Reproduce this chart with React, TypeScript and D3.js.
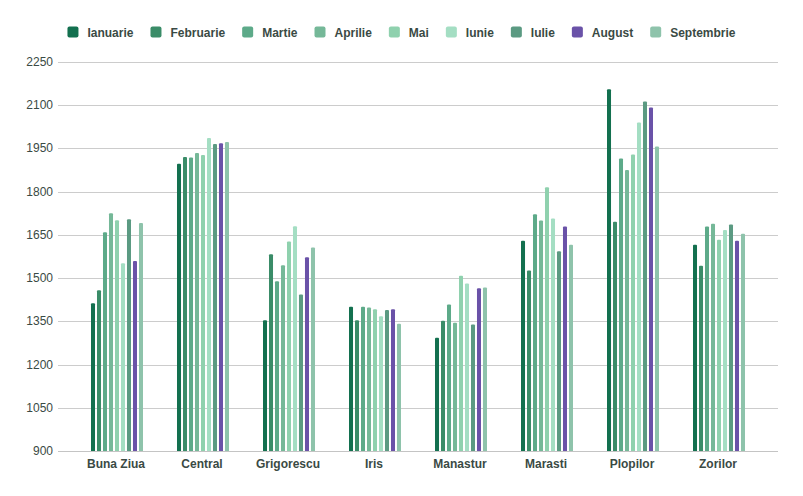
import React, { useMemo } from "react";
import * as d3 from "d3";

const categories = ["Buna Ziua", "Central", "Grigorescu", "Iris", "Manastur", "Marasti", "Plopilor", "Zorilor"];
const seriesNames = ["Ianuarie", "Februarie", "Martie", "Aprilie", "Mai", "Iunie", "Iulie", "August", "Septembrie"];
const seriesColors = ["#13704f", "#3a8c68", "#5daa89", "#75b898", "#8fd1ae", "#a4dec3", "#5b9a82", "#6a52a8", "#8ec3ab"];

// values[series][category]
const ianuarie = [1413, 1897, 1354, 1401, 1293, 1630, 2155, 1616];
const februarie = [1458, 1920, 1583, 1354, 1352, 1526, 1696, 1543];
const martie = [1659, 1919, 1489, 1401, 1408, 1722, 1915, 1679];
const aprilie = [1725, 1934, 1545, 1398, 1345, 1700, 1875, 1689];
const mai = [1701, 1927, 1627, 1392, 1508, 1815, 1929, 1633];
const iunie = [1552, 1986, 1680, 1368, 1481, 1707, 2040, 1667];
const iulie = [1704, 1965, 1443, 1389, 1339, 1593, 2113, 1686];
const august = [1559, 1968, 1572, 1392, 1465, 1679, 2092, 1630];
const septembrie = [1691, 1972, 1606, 1342, 1467, 1616, 1957, 1654];
const seriesValues = [ianuarie, februarie, martie, aprilie, mai, iunie, iulie, august, septembrie];

const yTicks = [900, 1050, 1200, 1350, 1500, 1650, 1800, 1950, 2100, 2250];

const W = 803;
const H = 496;
const FONT = "'Liberation Sans', Arial, sans-serif";
const TEXT = "#3a4a44";

export default function App() {
  const left = 58, right = 778, top = 62, bottom = 451;
  const y = d3.scaleLinear().domain([900, 2250]).range([bottom, top]);
  const x = d3.scaleBand<string>().domain(categories).range([left, right]).paddingInner(0).paddingOuter(0.186);
  const inner = d3.scaleBand<string>().domain(seriesNames).range([-27, 27]).paddingInner(0.33).paddingOuter(0.167);

  const legend = useMemo(() => {
    const canvas = document.createElement("canvas");
    const ctx = canvas.getContext("2d")!;
    ctx.font = `bold 12px ${FONT}`;
    const sw = 11, gap = 9, between = 17;
    const widths = seriesNames.map((s) => ctx.measureText(s).width);
    const total = widths.reduce((a, w) => a + sw + gap + w, 0) + between * (seriesNames.length - 1);
    let cx = W / 2 - total / 2;
    return seriesNames.map((s, i) => {
      const item = { name: s, x: cx, color: seriesColors[i] };
      cx += sw + gap + widths[i] + between;
      return item;
    });
  }, []);

  return (
    <div style={{ position: "absolute", left: 0, top: 0, width: W, height: H, background: "#fff" }}>
      <svg width={W} height={H} style={{ display: "block" }}>
        <rect width={W} height={H} fill="#fff" />
        {legend.map((l) => (
          <g key={l.name}>
            <rect x={l.x} y={26.5} width={11} height={11} rx={2} fill={l.color} />
            <text x={l.x + 20} y={36.5} fontFamily={FONT} fontWeight="bold" fontSize={12} fill={TEXT}>
              {l.name}
            </text>
          </g>
        ))}
        {yTicks.map((t) => (
          <g key={t}>
            <line x1={left} x2={right} y1={Math.round(y(t)) + 0.5} y2={Math.round(y(t)) + 0.5} stroke={t === 900 ? "#bdbdbd" : "#cccccc"} strokeWidth={1} />
            <text x={53} y={y(t) + 4} textAnchor="end" fontFamily={FONT} fontSize={12} fill={TEXT}>
              {t}
            </text>
          </g>
        ))}
        {categories.map((c, ci) => {
          const cx = (x(c) ?? 0) + x.bandwidth() / 2;
          return (
            <g key={c}>
              {seriesNames.map((s, si) => {
                const v = seriesValues[si][ci];
                const bx = cx + (inner(s) ?? 0);
                return (
                  <path
                    key={s}
                    d={`M${bx},${y(900)}V${y(v) + 1}Q${bx},${y(v)} ${bx + 1},${y(v)}H${bx + inner.bandwidth() - 1}Q${bx + inner.bandwidth()},${y(v)} ${bx + inner.bandwidth()},${y(v) + 1}V${y(900)}Z`}
                    fill={seriesColors[si]}
                  />
                );
              })}
              <text x={cx - 1} y={468} textAnchor="middle" fontFamily={FONT} fontWeight="bold" fontSize={12} fill={TEXT}>
                {c}
              </text>
            </g>
          );
        })}
        <line x1={left} x2={right} y1={451.5} y2={451.5} stroke="#c4c4c4" strokeWidth={1} />
      </svg>
    </div>
  );
}
